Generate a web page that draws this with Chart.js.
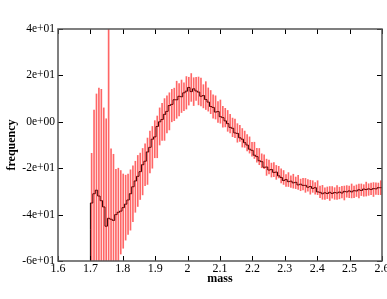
<!DOCTYPE html>
<html>
<head>
<meta charset="utf-8">
<script src="https://cdn.jsdelivr.net/npm/chart.js@4"></script>
<style>
  html, body { margin: 0; padding: 0; background: #fff; }
  #wrap { width: 387px; height: 299px; }
</style>
</head>
<body>
<div id="wrap"><canvas id="massChart"></canvas></div>
<script>
// histogram bins: left edge of first bin and bin width
const binStart = 1.70;
const binWidth = 0.0075;

// bin contents (frequency), 120 bins from 1.700 to 2.600
const counts = [
  -46.6, -35, -31, -29.5, -32, -34, -36.7, -45, -41.6, -42,
  -42.5, -40, -39, -38.5, -37, -35.5, -33.7, -31, -28, -25.5,
  -23.5, -21.5, -18.5, -17, -13, -11, -7.5, -6.5, -2, 0,
  1, 3.2, 4.5, 7, 7.5, 9.5, 9.5, 11, 10.8, 12.5,
  13.2, 14.8, 13, 14.2, 13.3, 12.8, 11, 11.3, 9.6, 8.5,
  6.6, 6.2, 4.2, 4.4, 2.2, 1.8, 0.4, -0.8, -2.4, -2.8,
  -4.8, -5, -6.9, -7.5, -9, -10, -11.8, -12.3, -14.4, -15,
  -16.8, -17.2, -19.6, -19.5, -20.8, -20.6, -21.8, -21.7, -23.3, -24,
  -25.3, -24.9, -25.8, -25.6, -26.3, -26.1, -27.2, -26.9, -27.4, -27.4,
  -28.2, -27.9, -28.7, -28.4, -30.2, -30.4, -31, -30.6, -30.9, -30.4,
  -30.9, -30.5, -30.7, -30.3, -30.7, -30, -30.2, -29.8, -30.2, -29.7,
  -29.8, -29.3, -29.6, -29, -29.2, -28.9, -29.2, -28.8, -28.9, -28.4
];

// half-length of the error bar of each bin
const errors = [
  33, 40, 43, 44, 46, 40, 38, 90, 30, 28,
  22, 20, 18, 16, 14, 13, 13, 12, 11, 11,
  10, 10, 9, 10, 9, 9, 8, 9, 8, 8,
  9, 8, 8, 7, 7, 8, 7, 7, 6, 7,
  6, 6, 6, 5, 6, 6, 5, 6, 5, 5,
  5, 5, 4.5, 5, 4.5, 4, 4.5, 4, 4, 4,
  4, 3.5, 4, 3.5, 3.5, 3.5, 3, 3.5, 3, 3.5,
  3, 3, 3.5, 3, 3, 3, 3, 2.5, 3, 3,
  2.5, 3, 2.5, 3, 2.5, 3, 2.5, 2.5, 3, 2.5,
  3, 2.5, 2.5, 3, 2.5, 3, 2.5, 2.5, 3, 2.5,
  2.5, 3, 2.5, 2.5, 3, 2.5, 2.5, 3, 2.5, 2.5,
  3, 2.5, 2.5, 3, 2.5, 2.5, 3, 2.5, 2.5, 3
];

// axis ranges
const xMin = 1.6, xMax = 2.6, xStep = 0.1;
const yMin = -60, yMax = 40, yStep = 20;

const serif = '"Liberation Serif", "Times New Roman", serif';

// step line: rises from the axis floor at the first edge, ends at the last edge
const stepPoints = [{ x: binStart, y: yMin }];
counts.forEach((c, i) => stepPoints.push({ x: binStart + i * binWidth, y: c }));
stepPoints.push({ x: binStart + counts.length * binWidth, y: counts[counts.length - 1] });

const errorBars = counts.map((c, i) => ({
  x: binStart + (i + 0.5) * binWidth,
  y: [c - errors[i], c + errors[i]]
}));

function sci(v) {
  if (v === 0) return '0e+00';
  const e = Math.floor(Math.log10(Math.abs(v)));
  const m = Math.round(v / Math.pow(10, e));
  return m + 'e' + (e < 0 ? '-' : '+') + String(Math.abs(e)).padStart(2, '0');
}

// frame and inward tick marks
const framePlugin = {
  id: 'frame',
  afterDraw(chart) {
    const { ctx, chartArea: { left, right, top, bottom }, scales: { x, y } } = chart;
    ctx.save();
    ctx.strokeStyle = '#000';
    ctx.lineWidth = 1;
    ctx.beginPath();
    x.ticks.forEach(t => {
      const px = Math.round(x.getPixelForValue(t.value)) + 0.5;
      ctx.moveTo(px, bottom); ctx.lineTo(px, bottom - 5);
      ctx.moveTo(px, top); ctx.lineTo(px, top + 5);
    });
    y.ticks.forEach(t => {
      const py = Math.round(y.getPixelForValue(t.value)) + 0.5;
      ctx.moveTo(left, py); ctx.lineTo(left + 5, py);
      ctx.moveTo(right, py); ctx.lineTo(right - 5, py);
    });
    ctx.stroke();
    ctx.strokeStyle = '#555';
    ctx.lineWidth = 1.5;
    ctx.strokeRect(left, top, right - left, bottom - top);
    ctx.restore();
  }
};

const ctx = document.getElementById('massChart').getContext('2d');
new Chart(ctx, {
  type: 'bar',
  data: {
    datasets: [
      {
        type: 'bar',
        data: errorBars,
        backgroundColor: 'rgba(255, 0, 0, 0.6)',
        borderWidth: 0,
        barThickness: 1,
        grouped: false,
        order: 0
      },
      {
        type: 'line',
        data: stepPoints,
        borderColor: '#000',
        borderWidth: 1,
        pointRadius: 0,
        fill: false,
        stepped: 'after',
        order: 1
      }
    ]
  },
  plugins: [framePlugin],
  options: {
    responsive: true,
    maintainAspectRatio: false,
    animation: false,
    layout: { padding: { left: 0, right: 5, top: 29, bottom: 0 } },
    plugins: {
      legend: { display: false },
      tooltip: { enabled: false }
    },
    scales: {
      x: {
        type: 'linear',
        offset: false,
        min: xMin,
        max: xMax,
        grid: { display: false, drawTicks: false, tickLength: 0 },
        border: { display: false },
        ticks: {
          stepSize: xStep,
          autoSkip: false,
          maxRotation: 0,
          padding: 1,
          color: '#000',
          font: { family: serif, size: 12 },
          callback: v => Number(v.toFixed(1)).toString()
        },
        title: {
          display: true,
          text: 'mass',
          color: '#000',
          font: { family: serif, size: 12, weight: 'bold' },
          padding: { top: 0, bottom: 13 }
        },
        afterFit: s => { s.height = 38; s.paddingLeft = 0; s.paddingRight = 0; }
      },
      y: {
        min: yMin,
        max: yMax,
        grid: { display: false, drawTicks: false, tickLength: 0 },
        border: { display: false },
        ticks: {
          stepSize: yStep,
          padding: 3,
          color: '#000',
          font: { family: serif, size: 11.5 },
          callback: v => sci(v)
        },
        title: {
          display: true,
          text: 'frequency',
          color: '#000',
          font: { family: serif, size: 12, weight: 'bold' },
          padding: { top: 5, bottom: 0 }
        },
        afterFit: s => { s.width = 58; s.paddingTop = 0; s.paddingBottom = 0; }
      }
    }
  }
});
</script>
</body>
</html>
